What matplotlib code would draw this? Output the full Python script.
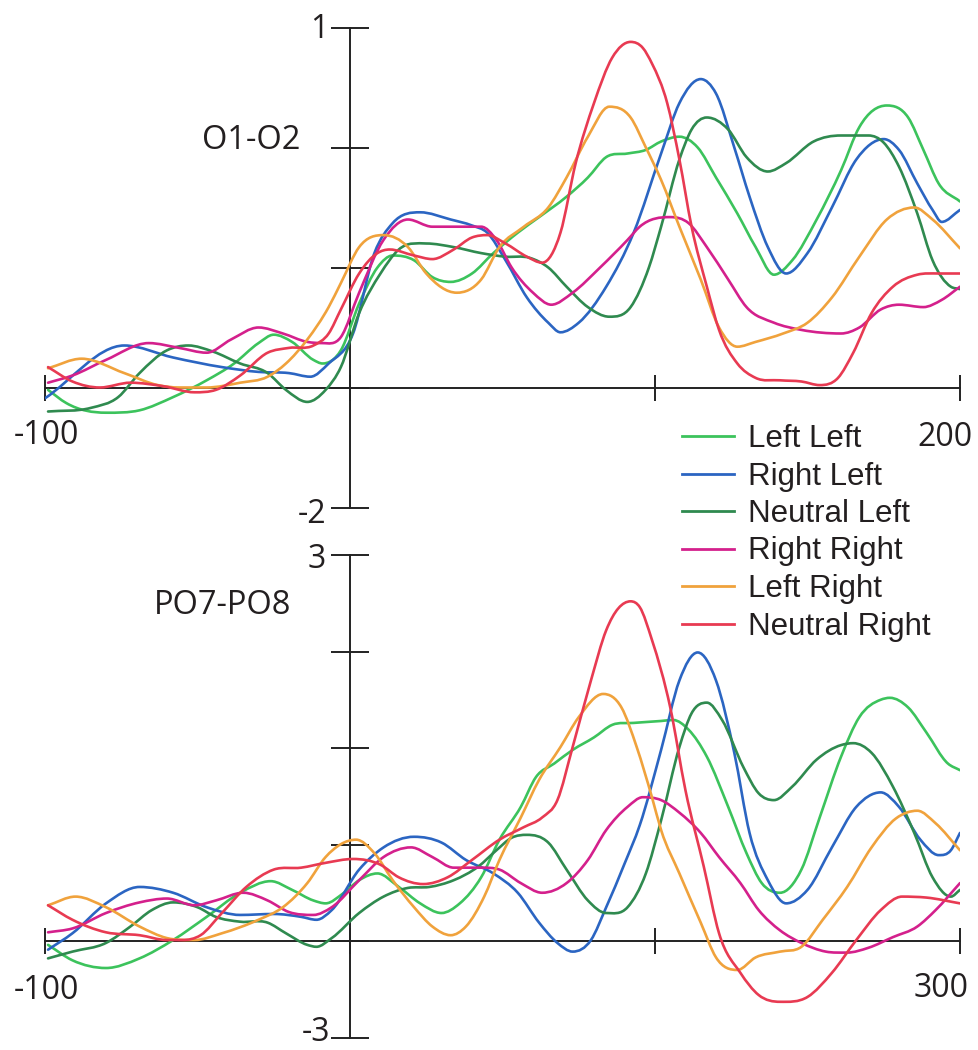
import numpy as np
import matplotlib
matplotlib.use("Agg")
import matplotlib.pyplot as plt
from matplotlib.path import Path
from matplotlib.patches import PathPatch
from matplotlib.lines import Line2D

# ---------------------------------------------------------------------------
# Lateralised ERP difference waves, amplitude in axis units, time in ms
# ---------------------------------------------------------------------------
conditions = ["Left Left", "Right Left", "Neutral Left",
              "Right Right", "Left Right", "Neutral Right"]
colors = ["#3cc35c", "#2b65c2", "#2f8a4f", "#d4208c", "#f0a23c", "#e83a52"]

# ---- O1-O2 ----------------------------------------------------------------
o1o2_ll_t = [-99, -93, -80, -69, -58, -47, -38, -30, -25, -19, -12, -9, -3, 3, 9, 14, 21, 27, 33, 40,
             47, 55, 62, 71, 78, 84, 91, 97, 102, 108, 114, 120, 127, 133, 139, 145, 153, 161, 167, 176,
             183, 188, 193, 200]
o1o2_ll_v = [-0.02, -0.13, -0.21, -0.19, -0.08, 0.06, 0.20, 0.37, 0.44, 0.38, 0.23, 0.20, 0.31, 0.70, 1.00,
             1.10, 1.06, 0.92, 0.88, 0.95, 1.12, 1.29, 1.42, 1.59, 1.75, 1.92, 1.95, 1.98, 2.05, 2.09,
             2.00, 1.75, 1.45, 1.17, 0.94, 1.06, 1.40, 1.81, 2.17, 2.35, 2.25, 1.98, 1.70, 1.55]

o1o2_rl_t = [-100, -74, -58, -42, -30, -20, -13, -7, 1, 8, 14, 23, 33, 40, 45, 51, 58, 65, 69, 75,
             84, 93, 102, 108, 115, 120, 126, 131, 137, 143, 150, 158, 166, 175, 180, 186, 191, 194, 200]
o1o2_rl_v = [-0.09, 0.35, 0.25, 0.17, 0.13, 0.12, 0.09, 0.20, 0.45, 1.12, 1.37, 1.46, 1.40, 1.35, 1.29,
             1.06, 0.75, 0.54, 0.46, 0.54, 0.84, 1.29, 1.95, 2.37, 2.57, 2.45, 2.00, 1.59, 1.17, 0.95,
             1.12, 1.50, 1.90, 2.07, 1.98, 1.70, 1.48, 1.38, 1.48]

o1o2_nl_t = [-99, -85, -76, -69, -60, -53, -45, -36, -27, -21, -14, -8, -3, 3, 10, 16, 25, 34, 43, 51,
             59, 65, 71, 78, 85, 92, 98, 102, 108, 112, 117, 124, 130, 137, 143, 152, 161, 170, 175, 180,
             186, 191, 197, 200]
o1o2_nl_v = [-0.20, -0.17, -0.08, 0.12, 0.31, 0.35, 0.30, 0.20, 0.12, -0.02, -0.12, -0.02, 0.17, 0.62,
             0.95, 1.15, 1.20, 1.17, 1.12, 1.09, 1.08, 1.00, 0.84, 0.67, 0.59, 0.67, 1.00, 1.34, 1.90,
             2.15, 2.25, 2.15, 1.92, 1.80, 1.87, 2.05, 2.10, 2.10, 2.04, 1.84, 1.45, 1.06, 0.84, 0.82]

o1o2_rr_t = [-99, -91, -80, -66, -56, -47, -39, -30, -22, -14, -9, -3, 3, 11, 19, 27, 35, 43, 48, 53,
             60, 66, 73, 82, 91, 95, 105, 111, 117, 124, 130, 139, 148, 161, 167, 174, 180, 188, 194, 200]
o1o2_rr_v = [0.04, 0.10, 0.23, 0.37, 0.33, 0.29, 0.40, 0.50, 0.45, 0.38, 0.37, 0.42, 0.79, 1.23, 1.40,
             1.34, 1.34, 1.34, 1.23, 1.00, 0.79, 0.69, 0.79, 1.00, 1.23, 1.34, 1.42, 1.37, 1.17, 0.90,
             0.67, 0.54, 0.48, 0.45, 0.50, 0.65, 0.69, 0.67, 0.73, 0.84]

o1o2_lr_t = [-99, -88, -74, -63, -56, -47, -36, -27, -21, -14, -7, -3, 3, 11, 19, 25, 35, 43, 49, 57,
             65, 71, 78, 85, 92, 97, 102, 108, 115, 121, 127, 133, 142, 150, 158, 167, 176, 185, 191, 200]
o1o2_lr_v = [0.16, 0.24, 0.12, 0.02, 0.00, 0.00, 0.04, 0.09, 0.20, 0.40, 0.67, 0.87, 1.17, 1.27, 1.17,
             0.95, 0.79, 0.90, 1.17, 1.34, 1.50, 1.75, 2.09, 2.34, 2.25, 2.00, 1.73, 1.34, 0.90, 0.50,
             0.34, 0.38, 0.45, 0.54, 0.75, 1.09, 1.40, 1.50, 1.40, 1.16]

o1o2_nr_t = [-99, -91, -82, -72, -61, -51, -44, -36, -27, -20, -12, -7, -3, 3, 9, 13, 21, 27, 34, 40,
             45, 51, 58, 63, 69, 74, 80, 86, 92, 96, 99, 104, 108, 112, 117, 121, 127, 133, 141, 148,
             154, 160, 165, 171, 178, 186, 193, 200]
o1o2_nr_v = [0.17, 0.05, 0.00, 0.04, 0.01, -0.04, -0.02, 0.10, 0.29, 0.33, 0.35, 0.45, 0.65, 0.95, 1.12,
             1.15, 1.10, 1.07, 1.15, 1.25, 1.27, 1.20, 1.09, 1.04, 1.29, 1.87, 2.37, 2.75, 2.88, 2.83,
             2.70, 2.37, 1.90, 1.34, 0.84, 0.48, 0.20, 0.08, 0.06, 0.05, 0.02, 0.08, 0.29, 0.62, 0.84,
             0.94, 0.95, 0.95]

# ---- PO7-PO8 --------------------------------------------------------------
po7po8_ll_t = [-99, -91, -80, -69, -58, -47, -36, -26, -19, -12, -8, -2, 3, 9, 16, 23, 30, 36, 43, 49,
               56, 61, 67, 73, 80, 86, 93, 102, 106, 111, 117, 124, 130, 135, 141, 148, 154, 161, 167, 174,
               177, 183, 189, 196, 200]
po7po8_ll_v = [-0.04, -0.20, -0.28, -0.18, 0.01, 0.25, 0.50, 0.62, 0.53, 0.42, 0.39, 0.50, 0.63, 0.70,
               0.56, 0.39, 0.29, 0.39, 0.66, 1.05, 1.39, 1.70, 1.84, 1.98, 2.11, 2.24, 2.26, 2.28, 2.29,
               2.19, 1.91, 1.39, 0.91, 0.60, 0.50, 0.74, 1.28, 1.91, 2.32, 2.50, 2.52, 2.42, 2.16, 1.84,
               1.77]

po7po8_rl_t = [-99, -91, -80, -69, -58, -47, -36, -25, -16, -11, -6, 3, 11, 21, 30, 38, 47, 55, 62, 68,
               73, 79, 84, 90, 95, 102, 108, 114, 120, 126, 131, 137, 143, 150, 158, 166, 174, 180, 187, 193,
               197, 200]
po7po8_rl_v = [-0.09, 0.08, 0.39, 0.56, 0.50, 0.35, 0.27, 0.28, 0.25, 0.22, 0.32, 0.74, 0.97, 1.08, 1.02,
               0.84, 0.70, 0.50, 0.19, -0.02, -0.11, 0.01, 0.35, 0.80, 1.20, 1.98, 2.70, 2.99, 2.70, 1.95,
               1.12, 0.63, 0.39, 0.53, 0.97, 1.39, 1.54, 1.39, 1.05, 0.89, 0.94, 1.12]

po7po8_nl_t = [-99, -91, -80, -72, -65, -58, -50, -44, -36, -27, -21, -14, -11, -6, 3, 11, 19, 26, 34, 42,
               48, 53, 58, 65, 71, 78, 84, 91, 97, 102, 108, 112, 117, 122, 129, 134, 139, 145, 153, 161,
               165, 171, 178, 185, 191, 197, 200]
po7po8_nl_v = [-0.18, -0.11, -0.02, 0.15, 0.32, 0.40, 0.35, 0.25, 0.20, 0.19, 0.08, -0.04, -0.06, 0.03,
               0.29, 0.46, 0.55, 0.56, 0.63, 0.77, 0.94, 1.07, 1.10, 1.02, 0.74, 0.42, 0.29, 0.35, 0.70,
               1.25, 2.01, 2.36, 2.47, 2.29, 1.80, 1.53, 1.46, 1.60, 1.88, 2.03, 2.05, 1.95, 1.60, 1.12,
               0.66, 0.46, 0.53]

po7po8_rr_t = [-99, -91, -80, -69, -60, -51, -44, -35, -27, -20, -12, -6, 3, 11, 20, 27, 34, 43, 49, 56,
               63, 71, 78, 84, 91, 96, 102, 108, 115, 121, 128, 134, 141, 148, 156, 163, 170, 178, 186, 192,
               200]
po7po8_rr_v = [0.09, 0.13, 0.29, 0.40, 0.44, 0.37, 0.42, 0.50, 0.42, 0.30, 0.27, 0.35, 0.63, 0.87, 0.97,
               0.87, 0.76, 0.76, 0.74, 0.60, 0.50, 0.60, 0.84, 1.15, 1.39, 1.49, 1.46, 1.33, 1.12, 0.87,
               0.60, 0.32, 0.11, -0.02, -0.11, -0.12, -0.07, 0.04, 0.15, 0.32, 0.60]

po7po8_lr_t = [-99, -90, -80, -69, -60, -51, -42, -30, -22, -14, -8, 2, 8, 14, 21, 27, 33, 38, 44, 49,
               56, 62, 69, 75, 83, 89, 94, 99, 102, 108, 115, 120, 127, 133, 141, 148, 155, 163, 171, 179,
               186, 192, 200]
po7po8_lr_v = [0.37, 0.46, 0.35, 0.15, 0.03, 0.01, 0.08, 0.22, 0.35, 0.60, 0.87, 1.05, 0.91, 0.63, 0.35,
               0.15, 0.06, 0.15, 0.46, 0.84, 1.28, 1.67, 2.01, 2.32, 2.56, 2.42, 2.01, 1.49, 1.15, 0.70,
               0.19, -0.17, -0.30, -0.17, -0.11, -0.06, 0.22, 0.56, 0.97, 1.27, 1.35, 1.22, 0.94]

po7po8_nr_t = [-99, -91, -80, -69, -60, -55, -49, -42, -34, -25, -16, -8, 1, 10, 16, 24, 32, 40, 49, 57,
               63, 68, 73, 79, 84, 92, 95, 99, 105, 110, 116, 121, 128, 134, 141, 150, 158, 166, 174, 181,
               189, 200]
po7po8_nr_v = [0.37, 0.22, 0.09, 0.06, 0.01, 0.01, 0.06, 0.29, 0.56, 0.74, 0.76, 0.81, 0.85, 0.79, 0.66,
               0.59, 0.66, 0.84, 1.05, 1.18, 1.28, 1.46, 2.01, 2.70, 3.22, 3.52, 3.46, 3.12, 2.42, 1.56,
               0.77, 0.08, -0.33, -0.56, -0.63, -0.58, -0.33, 0.01, 0.32, 0.46, 0.45, 0.39]

o1o2_series = [(o1o2_ll_t, o1o2_ll_v), (o1o2_rl_t, o1o2_rl_v), (o1o2_nl_t, o1o2_nl_v),
               (o1o2_rr_t, o1o2_rr_v), (o1o2_lr_t, o1o2_lr_v), (o1o2_nr_t, o1o2_nr_v)]
po7po8_series = [(po7po8_ll_t, po7po8_ll_v), (po7po8_rl_t, po7po8_rl_v), (po7po8_nl_t, po7po8_nl_v),
                 (po7po8_rr_t, po7po8_rr_v), (po7po8_lr_t, po7po8_lr_v), (po7po8_nr_t, po7po8_nr_v)]

# ---------------------------------------------------------------------------
W, H = 979, 1050
fig = plt.figure(figsize=(W / 100, H / 100), dpi=100)
fig.patch.set_facecolor("white")

AXIS_COLOR = "#222222"
TEXT_COLOR = "#231f20"
TICK_FONT = "Open Sans"
LEGEND_FONT = "Liberation Sans"


def fx(px):
    return px / W


def fy(py):
    return 1 - py / H


def hermite_slopes(x, y):
    """Tangents for a smooth trace: flat at turning points, otherwise a
    spacing-weighted average of the neighbouring secant slopes."""
    h = np.diff(x)
    d = np.diff(y) / h
    m = np.zeros_like(y)
    for k in range(1, len(y) - 1):
        if d[k - 1] * d[k] > 0:
            m[k] = (d[k - 1] * h[k] + d[k] * h[k - 1]) / (h[k - 1] + h[k])
    m[0] = d[0]
    m[-1] = d[-1]
    return m


def draw_trace(ax, t, v, color):
    x = np.asarray(t, float)
    y = np.asarray(v, float)
    m = hermite_slopes(x, y)
    verts = [(x[0], y[0])]
    codes = [Path.MOVETO]
    for i in range(len(x) - 1):
        h = x[i + 1] - x[i]
        verts += [(x[i] + h / 3, y[i] + m[i] * h / 3),
                  (x[i + 1] - h / 3, y[i + 1] - m[i + 1] * h / 3),
                  (x[i + 1], y[i + 1])]
        codes += [Path.CURVE4] * 3
    ax.add_patch(PathPatch(Path(verts, codes), fill=False, edgecolor=color,
                           lw=1.9, capstyle="round", joinstyle="round", zorder=3))


def setup_axes(rect, ylim, yticks):
    ax = fig.add_axes(rect)
    ax.set_xlim(-100, 200)
    ax.set_ylim(*ylim)
    ax.patch.set_alpha(0)
    for side in ("top", "right"):
        ax.spines[side].set_visible(False)
    ax.spines["left"].set_position(("data", 0))
    ax.spines["bottom"].set_position(("data", 0))
    for side in ("left", "bottom"):
        ax.spines[side].set_color(AXIS_COLOR)
        ax.spines[side].set_linewidth(1.4)
        ax.spines[side].set_zorder(2)
    ax.set_xticks([-100, 0, 100, 200])
    ax.set_yticks(yticks)
    ax.tick_params(axis="x", direction="inout", length=19, width=1.4, color=AXIS_COLOR,
                   labelbottom=False)
    ax.tick_params(axis="y", direction="inout", length=27, width=1.4, color=AXIS_COLOR,
                   labelleft=False)
    return ax


ax_top = setup_axes([fx(45), fy(507.5), fx(960) - fx(45), fy(27.5) - fy(507.5)],
                    (-1, 3), [-1, 0, 1, 2, 3])
ax_bot = setup_axes([fx(45), fy(1037.5), fx(960) - fx(45), fy(555) - fy(1037.5)],
                    (-1, 4), [-1, 0, 1, 2, 3, 4])

for (t, v), c in zip(o1o2_series, colors):
    draw_trace(ax_top, t, v, c)
for (t, v), c in zip(po7po8_series, colors):
    draw_trace(ax_bot, t, v, c)

# ---- axis annotations -----------------------------------------------------
tk = dict(family=TICK_FONT, fontsize=23, color=TEXT_COLOR)
fig.text(fx(46), fy(444), "-100", ha="center", va="baseline", **tk)
fig.text(fx(945), fy(446), "200", ha="center", va="baseline", **tk)
fig.text(fx(328), fy(38), "1", ha="right", va="baseline", **tk)
fig.text(fx(326), fy(523), "-2", ha="right", va="baseline", **tk)

fig.text(fx(46), fy(999), "-100", ha="center", va="baseline", **tk)
fig.text(fx(941), fy(997), "300", ha="center", va="baseline", **tk)
fig.text(fx(326), fy(568), "3", ha="right", va="baseline", **tk)
fig.text(fx(330), fy(1049), "-3", ha="right", va="bottom", **tk)

lab = dict(family=TICK_FONT, fontsize=23.5, color=TEXT_COLOR)
fig.text(fx(251), fy(149), "O1-O2", ha="center", va="baseline", **lab)
fig.text(fx(223), fy(614), "PO7-PO8", ha="center", va="baseline", **lab)

# ---- legend ---------------------------------------------------------------
handles = [Line2D([], [], color=c, lw=2.0) for c in colors]
fig.legend(handles, conditions, loc="upper left",
           bbox_to_anchor=(fx(682), fy(424)), bbox_transform=fig.transFigure,
           frameon=False, borderpad=0, borderaxespad=0,
           handlelength=1.66, handletextpad=0.45, labelspacing=0.24,
           prop=dict(family=LEGEND_FONT, size=22.5), labelcolor=TEXT_COLOR)

fig.savefig("out.png", dpi=100, facecolor="white")
